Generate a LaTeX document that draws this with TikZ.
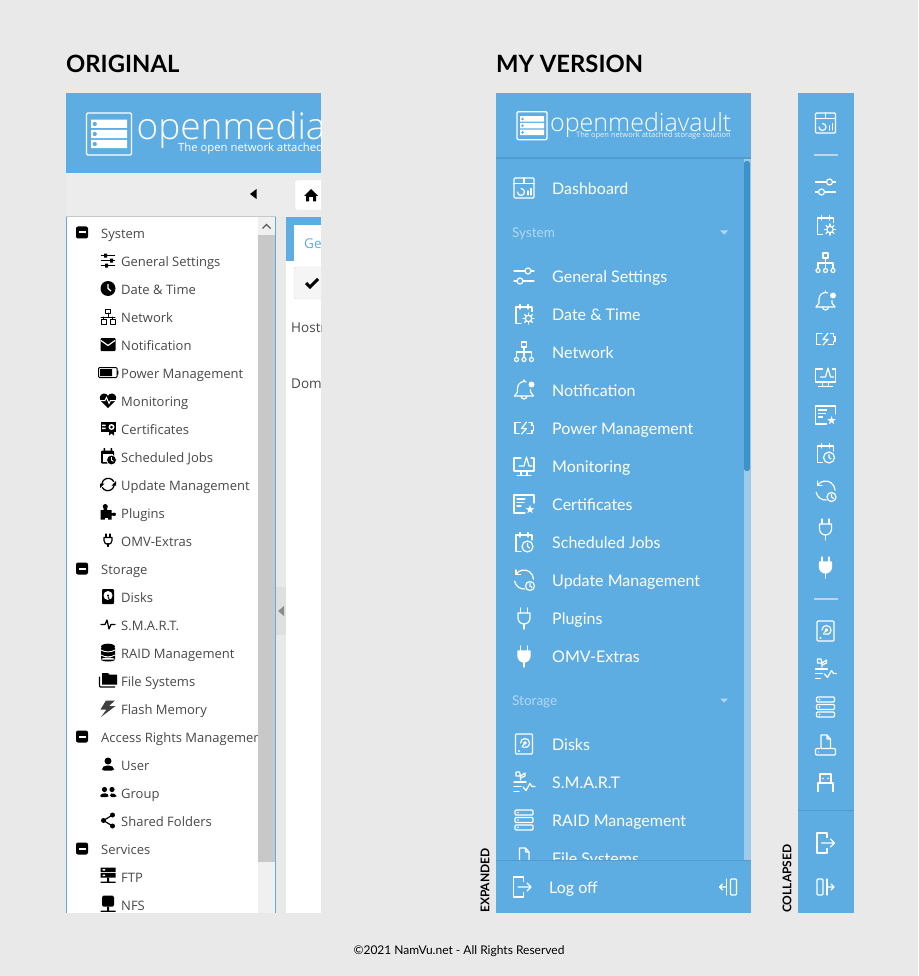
\documentclass[tikz,border=0pt]{standalone}
\usepackage{fontspec}
\setmainfont{Lato}
\newfontfamily\opensans{Open Sans}
\newfontfamily\logofont{Open Sans Light}
\definecolor{cor_bg}{RGB}{233,233,233}
\definecolor{cor_blue}{RGB}{93,173,226}
\definecolor{cor_thumb}{RGB}{62,146,204}
\definecolor{cor_track}{RGB}{160,203,232}
\definecolor{cor_shade}{RGB}{80,155,208}
\definecolor{cor_soft}{RGB}{178,216,242}
\definecolor{cor_text}{RGB}{72,72,72}
\definecolor{cor_bar}{RGB}{236,236,236}
\definecolor{cor_sb}{RGB}{240,240,240}
\definecolor{cor_sbthumb}{RGB}{200,200,200}
\definecolor{cor_sbarrow}{RGB}{90,90,90}
\definecolor{cor_split}{RGB}{223,223,223}
\definecolor{cor_tri}{RGB}{140,140,140}
\definecolor{cor_sep}{RGB}{190,215,232}

\tikzset{
    ico/.style={draw=white, line width=1.2pt, line cap=round, line join=round},
    blk/.style={draw=black, line width=1.3pt, line cap=round, line join=round},
    %white line icons
    ic dash/.pic={
        \draw[ico, rounded corners=1pt] (-10,-10) rectangle (10,10);
        \draw[ico] (-10,-4.5) -- (10,-4.5) (0,-10) -- (0,-4.5);
        \draw[ico] (-3,0.5) arc[start angle=270, end angle=540, radius=3.5];
        \draw[ico] (4,3) -- (4,7) (7,0.5) -- (7,7);
    },
    ic sliders/.pic={
        \draw[ico] (-10,-5) -- (1,-5) (7,-5) -- (10,-5) (-10,5) -- (-7,5) (-1,5) -- (10,5);
        \draw[ico] (4,-5) circle (3) (-4,5) circle (3);
    },
    ic calgear/.pic={
        \draw[ico] (-3,9.5) -- (-8,9.5) -- (-8,-7) -- (8,-7) -- (8,-2.5);
        \draw[ico] (-4,-9.5) -- (-4,-5) (4,-9.5) -- (4,-5);
        \draw[ico] (4.5,4.5) circle (3.2);
        \foreach \a in {0,45,...,315} \draw[ico] (4.5,4.5) +(\a:3.2) -- +(\a:5.5);
    },
    ic net/.pic={
        \draw[ico] (-2.5,-10) rectangle (2.5,-5);
        \draw[ico] (0,-5) -- (0,5.5) (-7.5,5.5) -- (-7.5,0) -- (7.5,0) -- (7.5,5.5);
        \draw[ico] (-7.5,7.5) circle (2) (0,7.5) circle (2) (7.5,7.5) circle (2);
    },
    ic bell/.pic={
        \draw[ico] (-9.5,6) -- (-6.5,2) -- (-6.5,-2) arc[start angle=180, end angle=290, radius=6.5];
        \draw[ico] (6.5,-0.5) -- (6.5,2) -- (9.5,6) -- (-9.5,6);
        \draw[ico] (-3,6) arc[start angle=180, end angle=0, radius=3];
        \draw[ico] (0,-8.5) -- (0,-10);
        \fill[white] (7.5,-5.5) circle (3);
    },
    ic power/.pic={
        \draw[ico] (-3.5,-5.5) -- (-9,-5.5) -- (-9,5.5) -- (-5,5.5);
        \draw[ico] (3,5.5) -- (8,5.5) -- (8,2.5) -- (9.5,2.5) -- (9.5,-2.5) -- (8,-2.5) -- (8,-5.5) -- (5,-5.5);
        \draw[ico] (2.5,-6) -- (-2.5,0.5) -- (2.5,0.5) -- (-2.5,6);
    },
    ic monitor/.pic={
        \draw[ico] (-3,-8) -- (-10,-8) -- (-10,5) -- (10,5) -- (10,-8) -- (7,-8);
        \draw[ico] (-5,0) -- (0,0) -- (2.5,-9) -- (5,0) -- (8,0);
        \draw[ico] (-3,5) -- (-3,9.5) (3,5) -- (3,9.5) (-7,9.5) -- (7,9.5);
    },
    ic cert/.pic={
        \draw[ico] (1,9) -- (-10,9) -- (-10,-9) -- (10,-9) -- (10,-1);
        \draw[ico] (-7,-5) -- (1,-5) (-7,-1.5) -- (0,-1.5) (-7,2) -- (-3,2);
        \fill[white, shift={(6,5.5)}] (-90:4.5) -- (-54:1.8) -- (-18:4.5) -- (18:1.8) -- (54:4.5) -- (90:1.8) -- (126:4.5) -- (162:1.8) -- (198:4.5) -- (234:1.8) -- cycle;
    },
    ic calclock/.pic={
        \draw[ico] (-3,9.5) -- (-8,9.5) -- (-8,-7) -- (8,-7) -- (8,-2);
        \draw[ico] (-4,-9.5) -- (-4,-5) (4,-9.5) -- (4,-5);
        \draw[ico] (3.5,4.5) circle (5.5);
        \draw[ico] (3.5,1.5) -- (3.5,4.5) -- (5.5,6);
    },
    ic update/.pic={
        \draw[ico] (0,-0.5) +(215:9.5) arc[start angle=215, end angle=358, radius=9.5];
        \draw[ico] (0,-0.5) +(170:9.5) arc[start angle=170, end angle=85, radius=9.5];
        \draw[ico] (-8,-10) -- (-8,-5.5) -- (-3.5,-5.5);
        \draw[ico] (6,6) circle (4.5);
        \draw[ico] (6,3.5) -- (6,6) -- (8,7.5);
    },
    ic plug/.pic={
        \draw[ico] (-3.5,-10) -- (-3.5,-5) (3.5,-10) -- (3.5,-5) (0,6) -- (0,11);
        \draw[ico] (-6,-5) -- (6,-5) -- (6,0) arc[start angle=0, end angle=180, radius=6] -- cycle;
    },
    ic plugfull/.pic={
        \draw[ico] (-3.5,-10) -- (-3.5,-5) (3.5,-10) -- (3.5,-5) (0,6) -- (0,11);
        \filldraw[ico, fill=white] (-6,-5) -- (6,-5) -- (6,0) arc[start angle=0, end angle=180, radius=6] -- cycle;
    },
    ic disk/.pic={
        \draw[ico, rounded corners=1pt] (-8.5,-10) rectangle (8.5,10);
        \draw[ico] (-3.5,-1) arc[start angle=180, end angle=470, radius=4.5];
        \draw[ico] (1,-1) circle (1.2) (0,0) -- (-2,3);
        \fill[white] (-5,7) circle (1.1);
    },
    ic smart/.pic={
        \draw[ico] (-3.5,-2) -- (-3.5,-6) (-3.5,-6) -- (-8,-6) -- (-8,-10) -- (-4.5,-10) -- (-3.5,-6);
        \draw[ico] (-3.5,-6) -- (1,-9) (1,-9) -- (1,-6) -- (-3.5,-4);
        \draw[ico] (-10,0) -- (2,0) (-10,4.5) -- (-3,4.5) (-10,9.5) -- (-5,9.5);
        \draw[ico] (-1,5) -- (2,8.5) -- (6,1.5) -- (8,4.5) -- (11,4.5);
    },
    ic raid/.pic={
        \draw[ico, rounded corners=1pt] (-9,-10) rectangle (9,-5) (-9,-2.5) rectangle (9,2.5) (-9,5) rectangle (9,10);
        \fill[white] (-6,-7.5) circle (0.8) (-6,0) circle (0.8) (-6,7.5) circle (0.8);
    },
    ic files/.pic={
        \draw[ico] (-4.5,3.5) -- (-4.5,-10) -- (1.5,-10) -- (5,-6) -- (5,3.5) -- cycle (1.5,-10) -- (1.5,-6) -- (5,-6);
        \draw[ico, rounded corners=1pt] (-6,3.5) -- (-10,3.5) -- (-10,10) -- (10,10) -- (10,3.5) -- (6,3.5);
        \fill[white] (-7,7) circle (0.7);
    },
    ic usb/.pic={
        \draw[ico] (-5.5,0) -- (-5.5,-9) -- (5.5,-9) -- (5.5,0);
        \draw[ico] (-7.5,8.5) -- (-7.5,0) -- (7.5,0) -- (7.5,8.5);
        \fill[white] (-2.5,-4.5) circle (0.8) (2.5,-4.5) circle (0.8);
    },
    ic logout/.pic={
        \draw[ico] (1.5,-5.5) -- (1.5,-10) -- (-8.5,-10) -- (-8.5,10) -- (1.5,10) -- (1.5,5.5);
        \draw[ico] (-4,0) -- (9,0) (5,-4) -- (9,0) -- (5,4);
    },
    ic collapse/.pic={
        \draw[ico] (-1.5,0) -- (-8.5,0) (-5.5,-3) -- (-8.5,0) -- (-5.5,3);
        \draw[ico] (-1.5,-8) -- (-1.5,8);
        \draw[ico, rounded corners=1pt] (2.5,-8) rectangle (8.5,8);
    },
    %black icons
    bk sliders/.pic={
        \draw[blk] (-6.5,-5) -- (6.5,-5) (-6.5,0) -- (6.5,0) (-6.5,5) -- (6.5,5);
        \fill (-4,-7) rectangle (-1,-3) (2,-2) rectangle (5,2) (-3,3) rectangle (0,7);
    },
    bk clock/.pic={
        \fill (0,0) circle (7.5);
        \draw[white, line width=1.3pt] (0,-4.5) -- (0,0) -- (3,2.5);
    },
    bk net/.pic={
        \draw[blk, line width=1pt] (-2.5,-7.5) rectangle (2.5,-3.5) (-7,3) rectangle (-2,7.5) (2,3) rectangle (7,7.5);
        \draw[blk, line width=1pt] (0,-3.5) -- (0,0.5) (-7,0.5) -- (7,0.5) (-4.5,0.5) -- (-4.5,3) (4.5,0.5) -- (4.5,3);
    },
    bk mail/.pic={
        \fill[rounded corners=1pt] (-7.5,-6.5) rectangle (7.5,6.5);
        \draw[white, line width=1.2pt] (-7,-4) -- (0,1) -- (7,-4);
    },
    bk battery/.pic={
        \draw[black, line width=1pt, rounded corners=1pt] (-9.5,-5) rectangle (9,5);
        \fill (-8,-3.5) rectangle (4,3.5) (9,-2) rectangle (10.3,2);
    },
    bk heart/.pic={
        \fill (0,7.5) -- (-7.5,0) .. controls (-9.5,-3.5) and (-7,-7) .. (-4,-7) .. controls (-2,-7) and (-0.5,-6) .. (0,-4.5) .. controls (0.5,-6) and (2,-7) .. (4,-7) .. controls (7,-7) and (9.5,-3.5) .. (7.5,0) -- cycle;
        \draw[white, line width=1pt] (-8,0) -- (-3,0) -- (-1.5,-3) -- (1,3) -- (2.5,0) -- (8,0);
    },
    bk cert/.pic={
        \fill (-7.5,-6.5) rectangle (7.5,3.5);
        \fill (1,0) -- (1,7) -- (3.5,5) -- (6,7) -- (6,0) -- cycle;
        \fill[white] (-6,-4) rectangle (-2.5,-2.5) (-6,-1) rectangle (-2.5,0.5);
        \fill[white] (3.5,-1.5) circle (3);
        \fill (3.5,-1.5) circle (1.5);
    },
    bk calclock/.pic={
        \fill[rounded corners=1pt] (-7,-6) rectangle (6,7);
        \fill (-4.5,-8.5) rectangle (-3,-5) (2.5,-8.5) rectangle (4,-5);
        \fill[white] (-5.5,-2.5) rectangle (4.5,5.5);
        \filldraw[draw=white, fill=black, line width=0.8pt] (3.5,3.5) circle (5);
        \draw[white, line width=0.9pt] (3.5,0.7) -- (3.5,3.7) -- (5.5,4.8);
    },
    bk refresh/.pic={
        \draw[blk] (-6,-1) arc[start angle=190, end angle=330, radius=6.3];
        \draw[blk] (6,1) arc[start angle=10, end angle=150, radius=6.3];
        \fill (8,-3.5) -- (8,1) -- (3.5,1) -- cycle (-8,3.5) -- (-8,-1) -- (-3.5,-1) -- cycle;
    },
    bk puzzle/.pic={
        \fill (-7.5,-2.5) rectangle (3.5,7) (-4.5,-7) rectangle (-1,-2) (3,0.5) rectangle (7.5,3);
        \fill (-2.7,-6) circle (2.5) (6,1.7) circle (1.8);
        \fill[white] (-3.5,5) rectangle (-0.5,7);
    },
    bk plug/.pic={
        \draw[blk, line width=1.1pt] (-2,-6.5) -- (-2,-3) (2,-6.5) -- (2,-3) (0,3) -- (0,6);
        \draw[blk, line width=1.2pt] (-4,-3) -- (4,-3) -- (4,0) arc[start angle=0, end angle=180, radius=4] -- cycle;
    },
    bk disk/.pic={
        \fill[rounded corners=1pt] (-6,-7.5) rectangle (6,7.5);
        \fill[white] (0,-1) circle (4.5);
        \fill (0,-1) circle (1.2);
        \draw[black, line width=1pt] (0,0) -- (2,5);
    },
    bk pulse/.pic={
        \draw[blk, line width=1.2pt] (-7,0) -- (-3,0) -- (-1,-4.5) -- (1,4.5) -- (3,0) -- (7,0);
    },
    bk db/.pic={
        \fill (0,-6) ellipse (7 and 2.8);
        \fill (-7,-5) rectangle (7,7) (0,7) ellipse (7 and 2);
        \draw[white, line width=0.9pt] (-7,-2.5) .. controls (-3,0) and (3,0) .. (7,-2.5) (-7,2.5) .. controls (-3,5) and (3,5) .. (7,2.5);
    },
    bk folders/.pic={
        \fill (-6,-7.5) -- (0,-7.5) -- (1.5,-6) -- (9,-6) -- (9,4) -- (-6,4) -- cycle;
        \draw[black, line width=1.1pt, rounded corners=1pt] (-8.5,-4) -- (-8.5,6.5) -- (7,6.5);
    },
    bk bolt/.pic={
        \fill[black!75] (7,-8) -- (-2,-8) -- (-7.5,1) -- (-1.5,1) -- (-7,8.5) -- (7.5,-2.5) -- (1,-2.5) -- cycle;
    },
    bk user/.pic={
        \fill (0,-3.5) circle (3.5);
        \fill[rounded corners=2pt] (-6,6) -- (-6,3) -- (-3,1) -- (3,1) -- (6,3) -- (6,6) -- cycle;
    },
    bk group/.pic={
        \fill (-3.5,-3) circle (2.6) (4,-3) circle (2.6);
        \fill[rounded corners=1.5pt] (-8,4.5) -- (-8,2.5) -- (-4,0.5) -- (-1,1) -- (0.5,2.5) -- (0.5,4.5) -- cycle;
        \fill[rounded corners=1.5pt] (2,4.5) -- (2,1.5) -- (4,0.5) -- (8.5,2.5) -- (8.5,4.5) -- cycle;
    },
    bk share/.pic={
        \draw[blk, line width=1.2pt] (4.5,-5.5) -- (-4.5,0) -- (4.5,5.5);
        \fill (4.5,-5.5) circle (2.5) (-4.5,0) circle (2.5) (4.5,5.5) circle (2.5);
    },
    bk ftp/.pic={
        \fill (-7.5,-9) rectangle (7.5,-4.5) (-7.5,-3.5) rectangle (7.5,1);
        \fill (-1,1) rectangle (1,5) (-7.5,5) rectangle (7.5,6.3);
        \fill[white] (-5.5,-7.5) rectangle (-3,-6) (-5.5,-2) rectangle (-3,-0.5);
    },
    bk nfs/.pic={
        \fill[rounded corners=1.5pt] (-6,-9) rectangle (6,2);
        \fill (-1,2) rectangle (1,6) (-7.5,6) rectangle (7.5,7.3);
    },
    %logo with three disks
    ic logo/.pic={
        \draw[white, line width=1.3pt, rounded corners=1.2pt] (-15,-14) rectangle (15,14);
        \fill[white] (-12,-9.5) rectangle (12,-4) (-12,-2.8) rectangle (12,2.8) (-12,4) rectangle (12,9.5);
        \fill[cor_blue] (-9.5,-6.7) circle (1.4) (-9.5,0) circle (1.4) (-9.5,6.7) circle (1.4);
    }
}

\begin{document}
\begin{tikzpicture}[x=1pt, y=-1pt]
    \tikzset{
        head/.style={anchor=west, inner sep=0pt, font=\fontsize{23.8}{26}\selectfont\bfseries, text=black},
        tree/.style={anchor=west, inner sep=0pt, text height=13pt, text depth=2pt, font=\opensans\fontsize{13}{15}\selectfont, text=cor_text},
        item/.style={anchor=west, inner sep=0pt, text height=15pt, text depth=2pt, font=\fontsize{16}{18}\selectfont, text=white},
        grp/.style={anchor=west, inner sep=0pt, text height=13pt, text depth=2pt, font=\fontsize{13.5}{15}\selectfont, text=cor_soft},
        side/.style={rotate=90, anchor=west, inner sep=0pt, font=\fontsize{12}{14}\selectfont\bfseries, text=black}
    }
    \useasboundingbox (0,0) rectangle (918,976);
    \fill[cor_bg] (0,0) rectangle (918,976);

    \node[head] (titleorig) at (66,64) {ORIGINAL};
    \node[head] (titlemine) at (496,64) {MY VERSION};

    %original panel
    \fill[cor_blue] (66,93) rectangle (321,173);
    \fill[cor_bar] (66,173) rectangle (321,217);
    \pic at (109,134) [scale=1.5] {ic logo};
    \begin{scope}
        \clip (66,93) rectangle (321,173);
        \node[anchor=base west, inner sep=0pt, text=white, font=\logofont\fontsize{37}{39}\selectfont] (logoold) at (136.5,140) {openmediavault};
        \node[anchor=base west, inner sep=0pt, text=white, font=\opensans\fontsize{11.3}{13}\selectfont] (tagold) at (178,152) {The open network attached};
    \end{scope}
    \fill[black] (250,194) -- (256.5,189) -- (256.5,199) -- cycle;
    \begin{scope}
        \clip (66,173) rectangle (321,913);
        \filldraw[draw=black!10, fill=white, rounded corners=2pt] (295,180) rectangle (340,210);
        \fill[black] (311,189) -- (318,196) -- (316,196) -- (316,201.5) -- (313,201.5) -- (313,197) -- (309,197) -- (309,201.5) -- (306,201.5) -- (306,196) -- (304,196) -- cycle;
    \end{scope}

    %tree panel
    \fill[white] (66,217) rectangle (276,913);
    \foreach \yy/\lbl/\nm in {233/System/tsys, 569/Storage/tsto, 737/Access Rights Management/tacc, 849/Services/tsrv}{
        \node[tree] (\nm) at (101,\yy) {\lbl};
        \fill[black, rounded corners=2pt] (76,\yy-6.5) rectangle (88,\yy+5.5);
        \fill[white] (78.5,\yy-1.5) rectangle (85.5,\yy+0.5);
    }
    \foreach \yy/\lbl/\ic/\nm in {
        261/General Settings/bk sliders/tgen, 289/Date \& Time/bk clock/tdat,
        317/Network/bk net/tnet, 345/Notification/bk mail/tnot,
        373/Power Management/bk battery/tpow, 401/Monitoring/bk heart/tmon,
        429/Certificates/bk cert/tcer, 457/Scheduled Jobs/bk calclock/tsch,
        485/Update Management/bk refresh/tupd, 513/Plugins/bk puzzle/tplu,
        541/OMV-Extras/bk plug/tomv, 597/Disks/bk disk/tdis,
        625/S.M.A.R.T./bk pulse/tsma, 653/RAID Management/bk db/trai,
        681/File Systems/bk folders/tfil, 709/Flash Memory/bk bolt/tfla,
        765/User/bk user/tuse, 793/Group/bk group/tgrp,
        821/Shared Folders/bk share/tsha, 877/FTP/bk ftp/tftp, 905/NFS/bk nfs/tnfs}{
        \node[tree] (\nm) at (121,\yy) {\lbl};
        \pic at (108,\yy-0.5) {\ic};
    }
    %scroll bar and borders
    \fill[cor_sb] (258,217) rectangle (275,913);
    \fill[cor_sbthumb] (258,235) rectangle (275,862);
    \draw[cor_sbarrow, line width=1.2pt] (262.5,228.5) -- (266.5,224.5) -- (270.5,228.5);
    \fill[cor_sbthumb] (66,216) rectangle (276,217.5);
    \draw[cor_blue, line width=1pt] (66.5,217) -- (66.5,913) (275.5,217) -- (275.5,913);
    \fill[cor_bg] (66,913) rectangle (276,920);

    %splitter
    \fill[cor_split] (276,587) rectangle (286,635);
    \fill[cor_tri] (278,611) -- (284,606) -- (284,616) -- cycle;

    %content
    \fill[white] (286,217) rectangle (321,913);
    \fill[cor_blue] (286,217) rectangle (321,261);
    \fill[white] (294,225) rectangle (321,261);
    \begin{scope}
        \clip (286,217) rectangle (321,913);
        \node[tree, text=cor_blue, font=\opensans\fontsize{13.5}{16}\selectfont] (tabgen) at (304,243) {General};
        \filldraw[draw=black!12, fill=black!4, rounded corners=2pt] (294,267) rectangle (340,299);
        \draw[black, line width=3pt] (306,283) -- (310,287) -- (318,279);
        \node[tree, font=\opensans\fontsize{13.5}{16}\selectfont] (lblhost) at (291,327) {Hostname};
        \node[tree, font=\opensans\fontsize{13.5}{16}\selectfont] (lbldom) at (291,383) {Domain};
    \end{scope}

    %expanded panel
    \fill[cor_blue] (496,93) rectangle (751,913);
    \pic at (532,125.7) {ic logo};
    \node[anchor=base west, inner sep=0pt, text=white, font=\logofont\fontsize{25}{27}\selectfont] (logonew) at (550,131.5) {openmediavault};
    \node[anchor=base west, inner sep=0pt, text=white!85!cor_blue, font=\opensans\fontsize{7.5}{9}\selectfont] (tagnew) at (576,137.5) {The open network attached storage solution};
    \fill[cor_shade] (496,157.5) rectangle (751,159.5);
    \fill[cor_track] (743.5,159.5) rectangle (751,860);
    \fill[cor_thumb, rounded corners=2.5pt] (744,161) rectangle (750,471);

    \foreach \yy/\lbl/\ic/\nm in {
        188/Dashboard/ic dash/idas, 276/General Settings/ic sliders/igen,
        314/Date \& Time/ic calgear/idat, 352/Network/ic net/inet,
        390/Notification/ic bell/inot, 428/Power Management/ic power/ipow,
        466/Monitoring/ic monitor/imon, 504/Certificates/ic cert/icer,
        542/Scheduled Jobs/ic calclock/isch, 580/Update Management/ic update/iupd,
        618/Plugins/ic plug/iplu, 656/OMV-Extras/ic plugfull/iomv,
        744/Disks/ic disk/idis, 782/S.M.A.R.T/ic smart/isma,
        820/RAID Management/ic raid/irai, 858/File Systems/ic files/ifil}{
        \node[item] (\nm) at (552,\yy) {\lbl};
        \pic at (524,\yy) {\ic};
    }
    \foreach \yy/\lbl/\nm in {232/System/gsys, 700/Storage/gsto}{
        \node[grp] (\nm) at (512,\yy) {\lbl};
        \fill[cor_soft] (720,\yy-1.5) -- (728,\yy-1.5) -- (724,\yy+2.5) -- cycle;
    }

    %footer
    \fill[cor_blue] (496,860) rectangle (751,913);
    \fill[cor_shade] (496,859.5) rectangle (751,861);
    \node[item] (logoff) at (549,887) {Log off};
    \pic at (522,887) {ic logout};
    \pic at (728,887) {ic collapse};
    \node[side] (lblexp) at (485,913) {EXPANDED};

    %collapsed panel
    \fill[cor_blue] (798,93) rectangle (854,913);
    \foreach \yy/\ic in {123/ic dash, 187/ic sliders, 225/ic calgear, 263/ic net, 301/ic bell,
        339/ic power, 377/ic monitor, 415/ic cert, 453/ic calclock, 491/ic update, 529/ic plug,
        567/ic plugfull, 631/ic disk, 669/ic smart, 707/ic raid, 745/ic files, 783/ic usb, 843/ic logout}{
        \pic at (825.5,\yy) {\ic};
    }
    \pic[xscale=-1] at (825.5,887) {ic collapse};
    \foreach \yy in {155,599}{
        \fill[cor_sep] (814,\yy-0.7) rectangle (838,\yy+0.7);
    }
    \fill[cor_shade] (798,809.5) rectangle (854,811);
    \node[side] (lblcol) at (787,913) {COLLAPSED};

    \node[inner sep=0pt, font=\fontsize{12}{14}\selectfont, text=black] (copy) at (459,951) {©2021 NamVu.net - All Rights Reserved};
\end{tikzpicture}
\end{document}
